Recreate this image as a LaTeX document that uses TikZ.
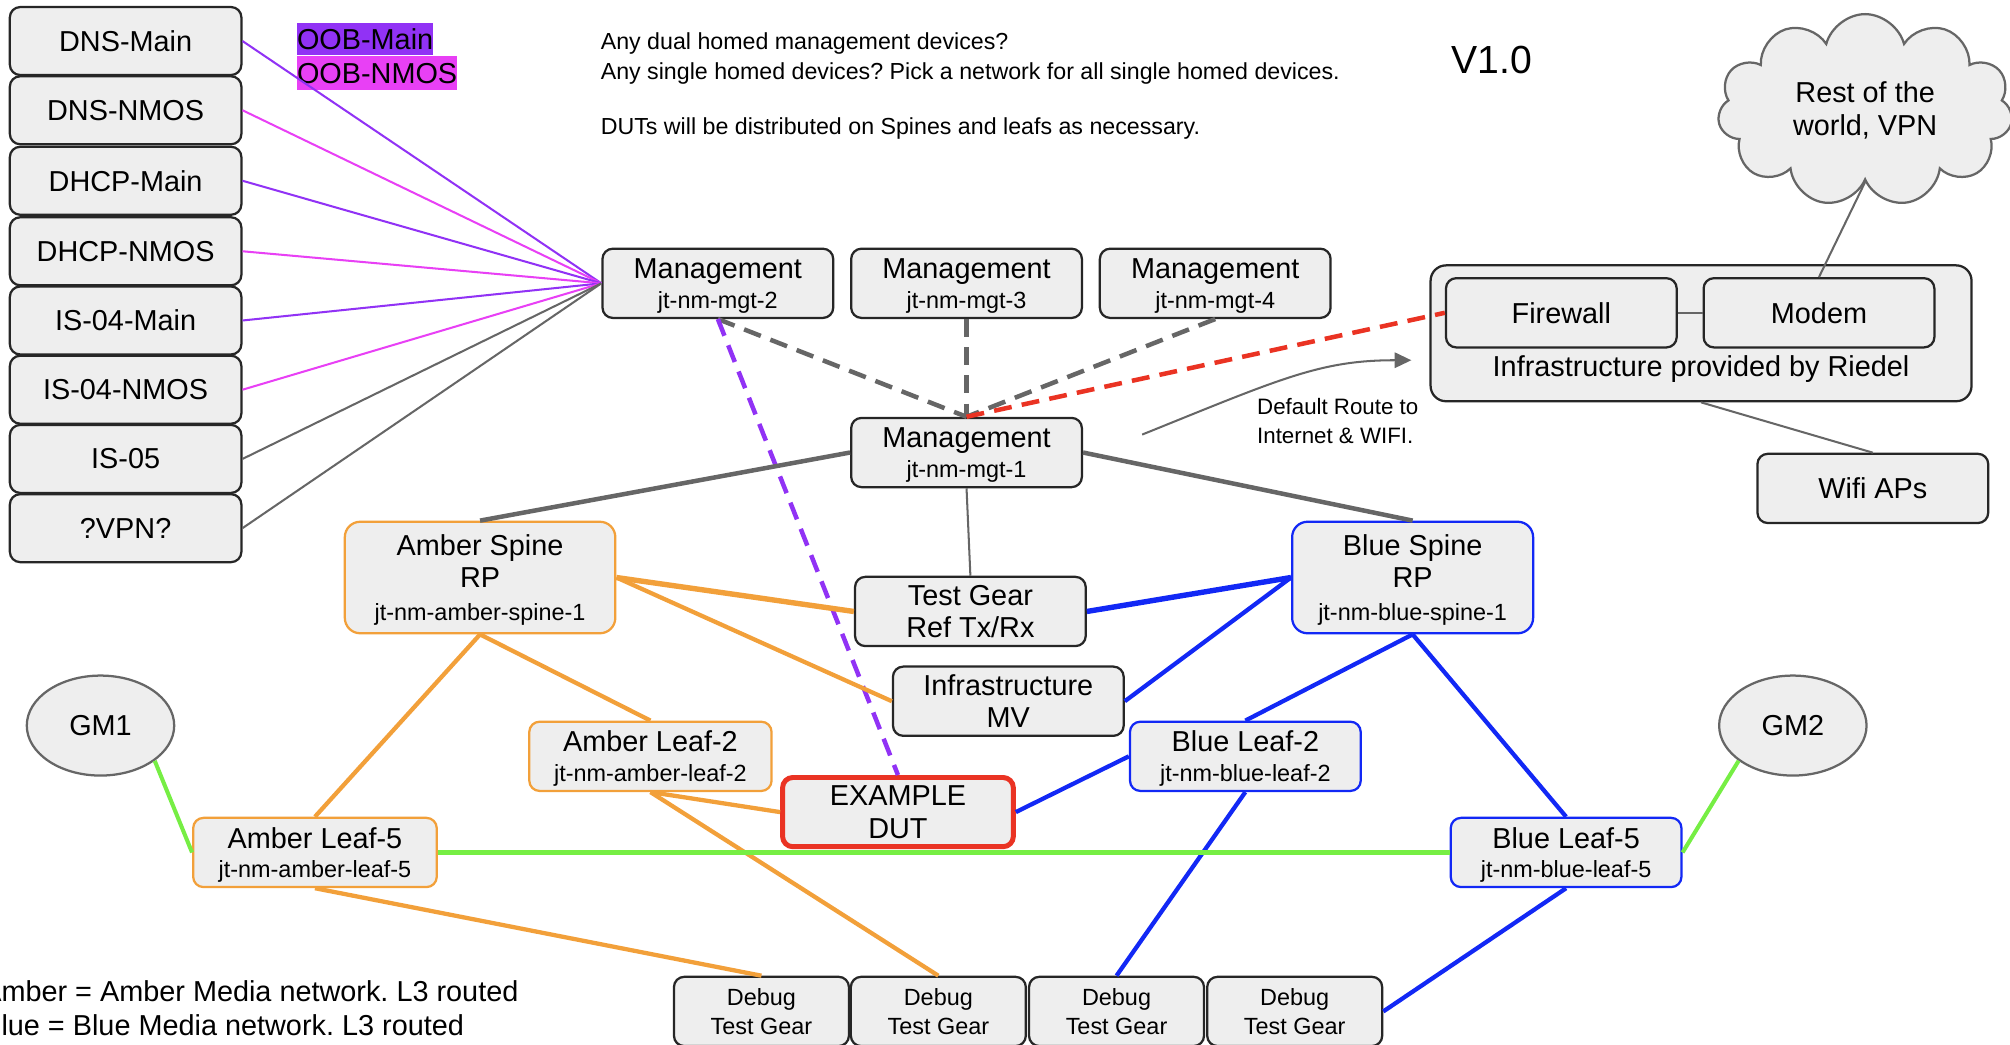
\documentclass[tikz,border=0pt]{standalone}
\usepackage{fontspec}
\setmainfont{Liberation Sans}
\usetikzlibrary{shapes.geometric,shapes.symbols,arrows.meta}

\definecolor{boxgray}{HTML}{EEEEEE}
\definecolor{linegray}{HTML}{666666}
\definecolor{amber}{RGB}{242,160,58}
\definecolor{netblue}{RGB}{18,40,245}
\definecolor{netgreen}{RGB}{118,238,68}
\definecolor{dutred}{RGB}{234,51,35}
\definecolor{oobpurple}{RGB}{145,50,245}
\definecolor{oobmagenta}{RGB}{232,64,245}

\newcommand\nmbig{\fontsize{6.4}{7.2}\selectfont}
\newcommand\nmsmall{\fontsize{5.2}{6.5}\selectfont}
\newcommand\nmnote{\fontsize{5.15}{6.7}\selectfont}
\newcommand\nmroute{\fontsize{4.95}{6.4}\selectfont}
\newcommand\nmlegend{\fontsize{6.4}{7.7}\selectfont}

\begin{document}
\frenchspacing
\begin{tikzpicture}[x=0.1mm, y=-0.1mm,
  hostbox/.style={rectangle, rounded corners=0.8mm, draw=black!85, line width=0.5pt, fill=boxgray, inner sep=0pt, align=center, font=\nmbig, minimum width=18mm, minimum height=5.4mm},
  subtitled/.style={text depth=-0.35mm},
  svcbox/.style={hostbox, minimum width=18.06mm, minimum height=5.3mm},
  spinebox/.style={hostbox, subtitled, rounded corners=1.2mm, minimum height=8.7mm},
  debugbox/.style={hostbox, font=\nmsmall, minimum width=13.65mm},
  gmnode/.style={ellipse, draw=linegray, line width=0.5pt, fill=boxgray, minimum width=11.5mm, minimum height=7.8mm, inner sep=0pt, font=\nmbig},
  fanlink/.style={line width=0.45pt},
  thinlink/.style={linegray, line width=0.45pt},
  mgtlink/.style={linegray, line width=1pt},
  mgtdash/.style={line width=1pt, dash pattern=on 1.4mm off 0.8mm},
  amberlink/.style={amber, line width=0.95pt},
  bluelink/.style={netblue, line width=0.95pt},
  greenlink/.style={netgreen, line width=0.9pt}]
  \useasboundingbox (0,0) rectangle (1568,815);

  % services on the left
  \node[svcbox] (DNSMain) at (98,32) {DNS-Main};
  \node[svcbox] (DNSNMOS) at (98,86) {DNS-NMOS};
  \node[svcbox] (DHCPMain) at (98,141) {DHCP-Main};
  \node[svcbox] (DHCPNMOS) at (98,196) {DHCP-NMOS};
  \node[svcbox] (ISMain) at (98,250) {IS-04-Main};
  \node[svcbox] (ISNMOS) at (98,304) {IS-04-NMOS};
  \node[svcbox] (ISFive) at (98,358) {IS-05};
  \node[svcbox] (VPN) at (98,412) {?VPN?};

  \node[fill=oobpurple, font=\nmbig, inner sep=0pt, minimum height=2.5mm, anchor=west] (OOBMain) at (231,30.5) {OOB-Main};
  \node[fill=oobmagenta, font=\nmbig, inner sep=0pt, minimum height=2.6mm, anchor=west] (OOBNMOS) at (231,57) {OOB-NMOS};

  \node[anchor=north west, align=left, font=\nmnote, inner sep=0pt] (Notes) at (468,25) {Any dual homed management devices?\\Any single homed devices? Pick a network for all single homed devices.\\[5.3pt]DUTs will be distributed on Spines and leafs as necessary.};
  \node[font=\fontsize{8.7}{10}\selectfont, inner sep=0pt] (Version) at (1164,47) {V1.0};

  % riedel side
  \node[cloud, cloud puffs=11, aspect=1.5, draw=linegray, fill=boxgray, line width=0.5pt, minimum width=23mm, minimum height=15mm, align=center, font=\nmbig, inner sep=0pt] (Cloud) at (1455,86) {Rest of the\\world, VPN};
  \node[hostbox, rounded corners=1.2mm, minimum width=42.2mm, minimum height=10.6mm] (Riedel) at (1327,260) {};
  \node[font=\nmbig, inner sep=0pt] (RiedelText) at (1327,288) {Infrastructure provided by Riedel};
  \node[hostbox] (Firewall) at (1218,244) {Firewall};
  \node[hostbox] (Modem) at (1419,244) {Modem};
  \node[hostbox] (Wifi) at (1461,381) {Wifi APs};

  % management
  \node[hostbox, subtitled] (MGT2) at (560,221) {Management\\[-0.6pt]{\nmsmall jt-nm-mgt-2}};
  \node[hostbox, subtitled] (MGT3) at (754,221) {Management\\[-0.6pt]{\nmsmall jt-nm-mgt-3}};
  \node[hostbox, subtitled] (MGT4) at (948,221) {Management\\[-0.6pt]{\nmsmall jt-nm-mgt-4}};
  \node[hostbox, subtitled] (MGT1) at (754,353) {Management\\[-0.6pt]{\nmsmall jt-nm-mgt-1}};

  \node[hostbox] (TestGear) at (757,477) {Test Gear\\Ref Tx/Rx};
  \node[hostbox] (InfraMV) at (786.6,547) {Infrastructure\\MV};
  \node[hostbox, draw=dutred, line width=1.1pt] (DUT) at (700.5,633.5) {EXAMPLE\\DUT};

  % media networks
  \node[spinebox, draw=amber, minimum width=21.1mm] (ASpine) at (374.5,450.5) {Amber Spine\\RP\\{\nmsmall jt-nm-amber-spine-1}};
  \node[spinebox, draw=netblue, minimum width=18.8mm] (BSpine) at (1102,450.5) {Blue Spine\\RP\\{\nmsmall jt-nm-blue-spine-1}};
  \node[hostbox, subtitled, draw=amber, minimum width=18.9mm] (ALeafTwo) at (507.4,590) {Amber Leaf-2\\[-0.6pt]{\nmsmall jt-nm-amber-leaf-2}};
  \node[hostbox, subtitled, draw=amber, minimum width=19mm] (ALeafFive) at (245.7,665) {Amber Leaf-5\\[-0.6pt]{\nmsmall jt-nm-amber-leaf-5}};
  \node[hostbox, subtitled, draw=netblue] (BLeafTwo) at (971.5,590) {Blue Leaf-2\\[-0.6pt]{\nmsmall jt-nm-blue-leaf-2}};
  \node[hostbox, subtitled, draw=netblue] (BLeafFive) at (1221.7,665) {Blue Leaf-5\\[-0.6pt]{\nmsmall jt-nm-blue-leaf-5}};
  \node[gmnode] (GMOne) at (78.4,566) {GM1};
  \node[gmnode] (GMTwo) at (1398.6,566) {GM2};

  \node[debugbox] (DebugA) at (594,789) {Debug\\Test Gear};
  \node[debugbox] (DebugB) at (732,789) {Debug\\Test Gear};
  \node[debugbox] (DebugC) at (871,789) {Debug\\Test Gear};
  \node[debugbox] (DebugD) at (1010,789) {Debug\\Test Gear};

  \node[anchor=north west, align=left, font=\nmlegend, inner sep=0pt] (Legend) at (-14.5,764) {Amber = Amber Media network. L3 routed\\Blue = Blue Media network. L3 routed};

  % default route note
  \coordinate (RouteStart) at (891,339);
  \coordinate (RouteEnd) at (1101,281);
  \draw[thinlink, -{Triangle[length=1.3mm,width=1.2mm]}] (RouteStart) .. controls (1000,295) and (1030,281) .. (RouteEnd);
  \node[anchor=north west, align=left, font=\nmroute, inner sep=0pt] (RouteText) at (980,310) {Default Route to\\Internet \& WIFI.};

  % out of band fan
  \draw[fanlink, oobpurple] (DNSMain.east) -- (MGT2.west);
  \draw[fanlink, oobmagenta] (DNSNMOS.east) -- (MGT2.west);
  \draw[fanlink, oobpurple] (DHCPMain.east) -- (MGT2.west);
  \draw[fanlink, oobmagenta] (DHCPNMOS.east) -- (MGT2.west);
  \draw[fanlink, oobpurple] (ISMain.east) -- (MGT2.west);
  \draw[fanlink, oobmagenta] (ISNMOS.east) -- (MGT2.west);
  \draw[fanlink, linegray] (ISFive.east) -- (MGT2.west);
  \draw[fanlink, linegray] (VPN.east) -- (MGT2.west);

  % management links
  \draw[mgtdash, linegray] (MGT2.south) -- (MGT1.north);
  \draw[mgtdash, linegray] (MGT3.south) -- (MGT1.north);
  \draw[mgtdash, linegray] (MGT4.south) -- (MGT1.north);
  \draw[mgtdash, dutred] (MGT1.north) -- (Firewall.west);
  \draw[mgtdash, oobpurple] (MGT2.south) -- (DUT.north);
  \draw[mgtlink] (MGT1.west) -- (ASpine.north);
  \draw[mgtlink] (MGT1.east) -- (BSpine.north);
  \draw[thinlink] (MGT1.south) -- (TestGear.north);

  \draw[thinlink] (Firewall.east) -- (Modem.west);
  \draw[thinlink] (Cloud.south) -- (Modem.north);
  \draw[thinlink] (Riedel.south) -- (Wifi.north);

  % amber network
  \draw[amberlink, line width=1.2pt] (ASpine.east) -- (TestGear.west);
  \draw[amberlink] (ASpine.east) -- (InfraMV.west);
  \draw[amberlink] (ASpine.south) -- (ALeafFive.north);
  \draw[amberlink] (ASpine.south) -- (ALeafTwo.north);
  \draw[amberlink] (ALeafTwo.south) -- (DUT.west);
  \draw[amberlink] (ALeafTwo.south) -- (DebugB.north);
  \draw[amberlink] (ALeafFive.south) -- (DebugA.north);

  % blue network
  \draw[bluelink, line width=1.2pt] (TestGear.east) -- (BSpine.west);
  \draw[bluelink] (InfraMV.east) -- (BSpine.west);
  \draw[bluelink] (BSpine.south) -- (BLeafTwo.north);
  \draw[bluelink] (BSpine.south) -- (BLeafFive.north);
  \draw[bluelink] (DUT.east) -- (BLeafTwo.west);
  \draw[bluelink] (BLeafTwo.south) -- (DebugC.north);
  \draw[bluelink] (BLeafFive.south) -- (DebugD.east);

  % clocks
  \draw[greenlink] (GMOne.-33) -- (ALeafFive.west);
  \draw[greenlink] (ALeafFive.east) -- (BLeafFive.west);
  \draw[greenlink] (BLeafFive.east) -- (GMTwo.213);
\end{tikzpicture}
\end{document}
